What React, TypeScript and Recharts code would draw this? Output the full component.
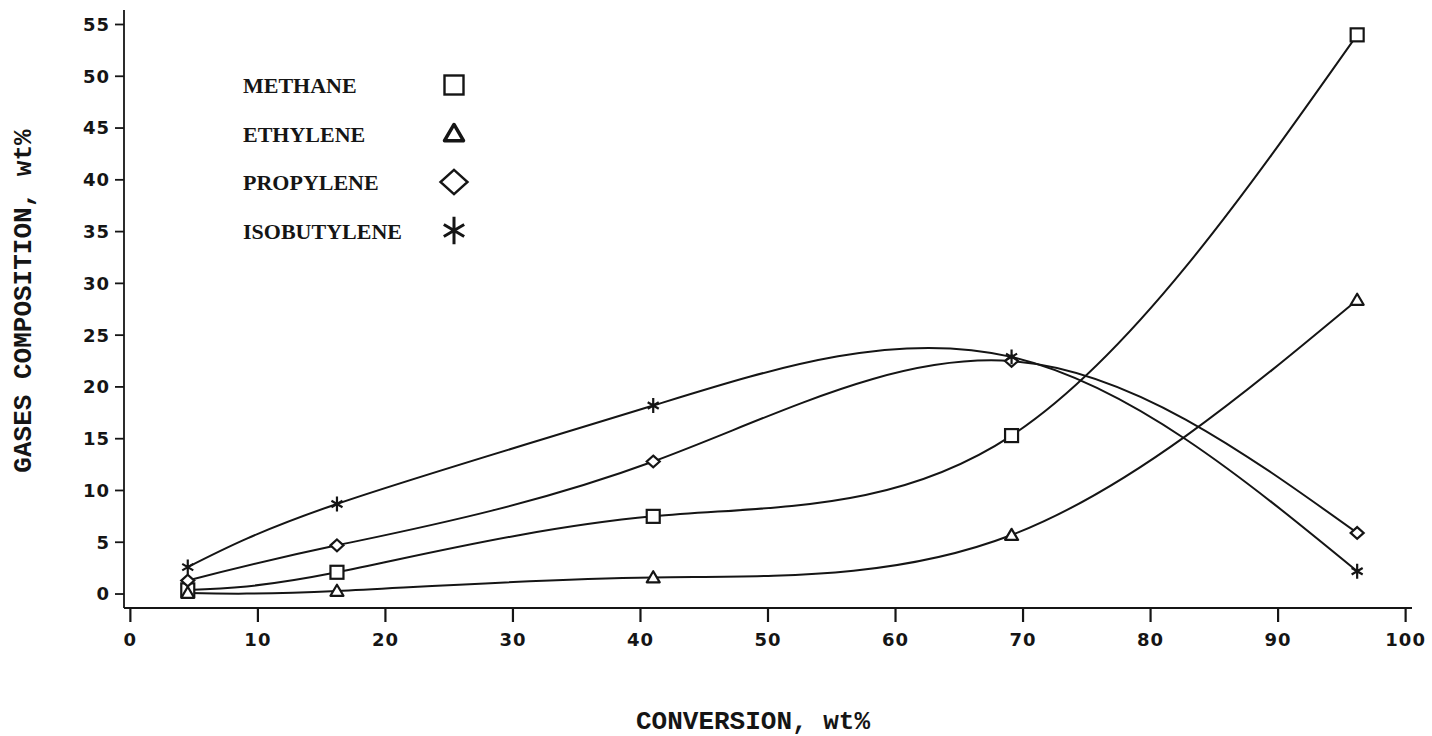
import React from 'react';
import { LineChart, Line, XAxis, YAxis, Customized } from 'recharts';

// conversion, wt% (shared x for all four gases)
const conversion = [4.5, 16.2, 41.0, 69.1, 96.2];

// gases composition, wt%
const methane = [0.4, 2.1, 7.5, 15.3, 54.0];
const ethylene = [0.1, 0.3, 1.6, 5.7, 28.4];
const propylene = [1.3, 4.7, 12.8, 22.5, 5.9];
const isobutylene = [2.6, 8.7, 18.2, 22.9, 2.2];

const xTicks = [0, 10, 20, 30, 40, 50, 60, 70, 80, 90, 100];
const yTicks = [0, 5, 10, 15, 20, 25, 30, 35, 40, 45, 50, 55];

type Kind = 'square' | 'triangle' | 'diamond' | 'star';

const series: { key: string; name: string; kind: Kind }[] = [
  { key: 'methane', name: 'METHANE', kind: 'square' },
  { key: 'ethylene', name: 'ETHYLENE', kind: 'triangle' },
  { key: 'propylene', name: 'PROPYLENE', kind: 'diamond' },
  { key: 'isobutylene', name: 'ISOBUTYLENE', kind: 'star' },
];

const data = conversion.map((c, i) => ({
  conversion: c,
  methane: methane[i],
  ethylene: ethylene[i],
  propylene: propylene[i],
  isobutylene: isobutylene[i],
}));

const INK = '#151515';
const MONO = '"Liberation Mono", "DejaVu Sans Mono", monospace';

function Marker({ cx, cy, kind, s, sw }: { cx: number; cy: number; kind: Kind; s: number; sw: number }) {
  const h = s / 2;
  if (kind === 'square') {
    return <rect x={cx - h} y={cy - h} width={s} height={s} fill="#fff" stroke={INK} strokeWidth={sw} />;
  }
  if (kind === 'triangle') {
    const d = `M${cx},${cy - h * 0.95} L${cx + h},${cy + h * 0.75} L${cx - h},${cy + h * 0.75} Z`;
    return <path d={d} fill="#fff" stroke={INK} strokeWidth={sw} strokeLinejoin="round" />;
  }
  if (kind === 'diamond') {
    const v = h * 0.9;
    const d = `M${cx},${cy - v} L${cx + h},${cy} L${cx},${cy + v} L${cx - h},${cy} Z`;
    return <path d={d} fill="#fff" stroke={INK} strokeWidth={sw} />;
  }
  const a = h * 0.85;
  const b = h * 0.5;
  const d = `M${cx},${cy - h * 1.15} L${cx},${cy + h * 1.15} M${cx - a},${cy - b} L${cx + a},${cy + b} M${cx - a},${cy + b} L${cx + a},${cy - b}`;
  return <path d={d} fill="none" stroke={INK} strokeWidth={sw} />;
}

function Titles() {
  return (
    <g>
      <text x={753} y={729} textAnchor="middle" fontFamily={MONO} fontWeight="bold" fontSize={26} fill={INK}>
        CONVERSION, wt%
      </text>
      <text
        x={0}
        y={0}
        transform="translate(31 301) rotate(-90)"
        textAnchor="middle"
        fontFamily={MONO}
        fontWeight="bold"
        fontSize={26}
        fill={INK}
      >
        GASES COMPOSITION, wt%
      </text>
      {series.map((s, i) => (
        <g key={s.key}>
          <text
            x={243}
            y={93 + i * 48.5}
            fontFamily='"Liberation Serif", "DejaVu Serif", serif'
            fontWeight="bold"
            fontSize={22}
            fill={INK}
          >
            {s.name}
          </text>
          <Marker
            cx={454}
            cy={85 + i * 48.5}
            kind={s.kind}
            s={s.kind === 'diamond' ? 27 : s.kind === 'star' ? 24 : 19}
            sw={s.kind === 'triangle' ? 3.5 : s.kind === 'star' ? 3 : 2.4}
          />
        </g>
      ))}
    </g>
  );
}

const tickStyle = {
  fill: INK,
  fontSize: 18,
  letterSpacing: 1,
  fontFamily: '"DejaVu Sans", sans-serif',
  fontWeight: 'bold' as const,
};

export default function App() {
  return (
    <div style={{ position: 'absolute', left: 0, top: 0, background: '#fff' }}>
      <LineChart width={1432} height={736} data={data} margin={{ top: 10, right: 20, bottom: 68, left: 0 }}>
        <XAxis
          type="number"
          dataKey="conversion"
          domain={[-0.5, 100.5]}
          ticks={xTicks}
          interval={0}
          height={60}
          tickSize={14}
          tickMargin={11}
          axisLine={{ stroke: INK, strokeWidth: 1.8 }}
          tickLine={{ stroke: INK, strokeWidth: 2.2 }}
          tick={tickStyle}
        />
        <YAxis
          type="number"
          domain={[-1.35, 56.4]}
          ticks={yTicks}
          interval={0}
          width={124}
          tickSize={9}
          tickMargin={5}
          axisLine={{ stroke: INK, strokeWidth: 1.8 }}
          tickLine={{ stroke: INK, strokeWidth: 1.8 }}
          tick={tickStyle}
        />
        {series.map((s) => (
          <Line
            key={s.key}
            type="natural"
            dataKey={s.key}
            name={s.name}
            stroke={INK}
            strokeWidth={2}
            isAnimationActive={false}
            dot={(p: any) => <Marker key={`${s.key}-${p.index}`} cx={p.cx} cy={p.cy} kind={s.kind} s={13} sw={2.2} />}
            activeDot={false}
          />
        ))}
        <Customized component={Titles} />
      </LineChart>
    </div>
  );
}
